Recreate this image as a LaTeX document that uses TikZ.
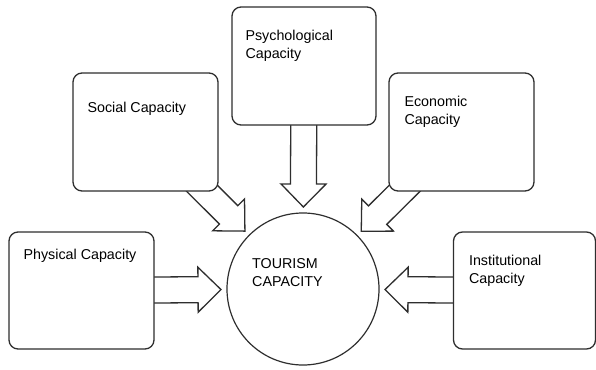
\documentclass[tikz,border=0pt]{standalone}
\usepackage{fontspec}
\setmainfont{Liberation Sans}
\usepackage{xcolor}
\usetikzlibrary{calc, positioning, backgrounds}

\definecolor{edge}{HTML}{2E2E2E}

% fat outlined arrow from the centre of #1 towards the circle #2
\newcommand{\fatarrow}[2]{%
	\coordinate (tip) at ($(#2)!82pt!(#1)$);
	\coordinate (hb) at ($(tip)!23pt!(#1)$);
	\draw[fatline] ($(#1)!13pt!-90:(tip)$) -- ($(hb)!13pt!90:(#1)$)
	-- ($(hb)!22.5pt!90:(#1)$) -- (tip)
	-- ($(hb)!22.5pt!-90:(#1)$) -- ($(hb)!13pt!-90:(#1)$)
	-- ($(#1)!13pt!90:(tip)$) -- cycle;
}

\begin{document}
\begin{tikzpicture}[x=1pt, y=-1pt, line join=round,
	box/.style={draw=edge, line width=1.3pt, fill=white, rounded corners=9pt,
		minimum width=145pt, minimum height=118pt, inner sep=0pt},
	lbl/.style={anchor=north west, inner sep=0pt, align=left,
		font=\fontsize{14.3}{18}\selectfont},
	fatline/.style={draw=edge, line width=1.3pt, fill=white}]
	\useasboundingbox (0,0) rectangle (596,369);
	
	% --- the five capacities ---
	\node[box] (social) at (145.5,132) {};
	\node[box, minimum width=144pt] (psych) at (304,66) {};
	\node[box] (econ) at (461.5,132) {};
	\node[box, minimum height=117pt] (phys) at (81.5,290.5) {};
	\node[box, minimum width=142pt, minimum height=117pt] (inst) at (524.5,290.5) {};
	
	% --- centre ---
	\node[circle, draw=edge, line width=1.2pt, minimum size=152pt, inner sep=0pt] (tour) at (303,289) {};
	
	% --- texts ---
	\node[lbl] (social-t) at ($(social.north west)+(15,30)$) {Social Capacity};
	\node[lbl] (psych-t) at ($(psych.north west)+(14,24)$) {Psychological\\Capacity};
	\node[lbl] (econ-t) at ($(econ.north west)+(16,24)$) {Economic\\Capacity};
	\node[lbl] (phys-t) at ($(phys.north west)+(15,18)$) {Physical Capacity};
	\node[lbl] (inst-t) at ($(inst.north west)+(16,24)$) {Institutional\\Capacity};
	\node[lbl] (tour-t) at ($(tour.center)+(-51,-31)$) {TOURISM\\CAPACITY};
	
	% --- arrows, behind the boxes ---
	\begin{scope}[on background layer]
		\fatarrow{social}{tour}
		\fatarrow{psych}{tour}
		\fatarrow{econ}{tour}
		\fatarrow{phys}{tour}
		\fatarrow{inst}{tour}
	\end{scope}
\end{tikzpicture}
\end{document}
